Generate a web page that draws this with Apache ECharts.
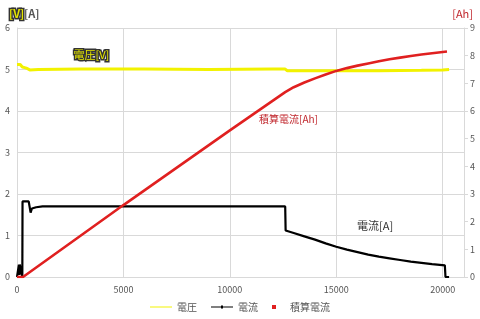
<!DOCTYPE html>
<html><head><meta charset="utf-8">
<script src="https://cdn.jsdelivr.net/npm/echarts@6/dist/echarts.min.js"></script>
<style>html,body{margin:0;padding:0;background:#fff}#c{width:480px;height:319px}</style>
</head><body><div id="c"></div>
<script>
const xTicks = [0, 5000, 10000, 15000, 20000];
const seriesNames = ['電圧', '電流', '積算電流'];
const timeV = [0,50,150,250,300,400,500,600,1000,3000,6000,9000,12000,12600,12700,13000,15000,17000,19000,20000,20300];
const voltage = [5.12,5.08,5.12,5.06,5.08,5.04,5.02,4.99,5.0,5.01,5.01,5.0,5.01,5.01,4.97,4.97,4.97,4.97,4.98,4.99,5.0];
const timeI = [0,80,90,110,130,250,260,550,600,640,700,900,1200,12600,12620,13000,13500,14000,14500,15000,15500,16000,16500,17000,17500,18000,18500,19000,19500,20100,20130,20300];
const current = [0,0,0.3,0.05,0.3,0,1.82,1.82,1.78,1.55,1.65,1.68,1.7,1.7,1.12,1.06,0.98,0.9,0.81,0.73,0.66,0.6,0.54,0.49,0.45,0.41,0.37,0.34,0.31,0.28,0,0];
const timeAh = [0,280,5000,10000,12600,13000,13500,14000,14500,15000,15500,16000,16500,17000,17500,18000,18500,19000,19500,20200];
const ah = [0,0,2.6,5.3,6.68,6.86,7.03,7.18,7.32,7.45,7.55,7.64,7.72,7.8,7.87,7.93,7.99,8.04,8.09,8.15];

const pairs = (xs, ys) => xs.map((x, i) => [x, ys[i]]);
const chart = echarts.init(document.getElementById('c'));
const font = 'Noto Sans CJK JP';
chart.setOption({
  animation: false,
  textStyle: {fontFamily: font},
  grid: {left: 17, right: 16, top: 28, bottom: 42},
  title: [
    {text: '{v|[V]}{a|[A]}', left: 4, top: 3,
     textStyle: {rich: {
       v: {fontFamily: font, fontSize: 11, color: '#e6e600', textBorderColor: '#333', textBorderWidth: 3},
       a: {fontFamily: font, fontSize: 11, color: '#555'}}}},
    {text: '[Ah]', right: 2, top: 3, textStyle: {fontFamily: font, fontSize: 11, color: '#c0262c', fontWeight: 'normal'}}
  ],
  legend: {
    bottom: 2, left: 'center', itemGap: 14, itemWidth: 22, itemHeight: 4,
    textStyle: {fontFamily: font, fontSize: 10, color: '#555'},
    data: [
      {name: seriesNames[0], icon: 'path://M0,4H22V5H0Z'},
      {name: seriesNames[1], icon: 'path://M0,4H22V5H0ZM10,3H12V6H10Z'},
      {name: seriesNames[2], icon: 'path://M0,0H4V4H0Z', itemStyle: {color: '#e02020'}}
    ]
  },
  xAxis: {
    type: 'value', min: 0, max: 21000, interval: 5000,
    axisLine: {show: true, lineStyle: {color: '#d9d9d9'}},
    axisTick: {show: false},
    axisLabel: {fontFamily: font, fontSize: 9, color: '#555', showMaxLabel: false, margin: 8, formatter: v => String(v)},
    splitLine: {show: true, lineStyle: {color: '#d9d9d9'}}
  },
  yAxis: [
    {type: 'value', min: 0, max: 6, interval: 1, position: 'left',
     axisLine: {show: true, lineStyle: {color: '#d9d9d9'}}, axisTick: {show: false},
     axisLabel: {fontFamily: font, fontSize: 9, color: '#555', margin: 7},
     splitLine: {show: true, lineStyle: {color: '#d9d9d9'}}},
    {type: 'value', min: 0, max: 9, interval: 1, position: 'right',
     axisLine: {show: true, lineStyle: {color: '#d9d9d9'}},
     axisTick: {show: true, length: 4, lineStyle: {color: '#d9d9d9'}},
     axisLabel: {fontFamily: font, fontSize: 9, color: '#555', margin: 6},
     splitLine: {show: false}}
  ],
  series: [
    {name: seriesNames[0], type: 'line', yAxisIndex: 0, data: pairs(timeV, voltage), symbol: 'none',
     lineStyle: {color: '#f2f200', width: 3}, itemStyle: {color: '#f2f200'}, z: 2},
    {name: seriesNames[1], type: 'line', yAxisIndex: 0, data: pairs(timeI, current), symbol: 'none',
     lineStyle: {color: '#000', width: 2.2}, itemStyle: {color: '#000'}, z: 3},
    {name: seriesNames[2], type: 'line', yAxisIndex: 1, data: pairs(timeAh, ah), symbol: 'none',
     lineStyle: {color: '#e02020', width: 2.6}, itemStyle: {color: '#e02020'}, z: 4}
  ],
  graphic: [
    {type: 'text', left: 72, top: 48, style: {text: '電圧[V]', font: '11px "Noto Sans CJK JP"', fill: '#e6e600', stroke: '#333', lineWidth: 3}},
    {type: 'text', left: 259, top: 114, style: {text: '積算電流[Ah]', font: '10px "Noto Sans CJK JP"', fill: '#c0262c'}},
    {type: 'text', left: 357, top: 220, style: {text: '電流[A]', font: '11px "Noto Sans CJK JP"', fill: '#333'}}
  ]
});
</script></body></html>
